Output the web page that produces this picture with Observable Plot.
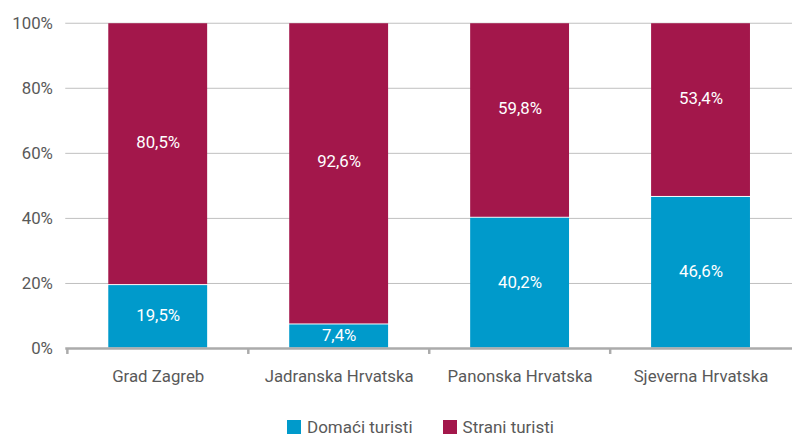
<!DOCTYPE html>
<html>
<head>
<meta charset="utf-8">
<script src="https://cdn.jsdelivr.net/npm/d3@7"></script>
<script src="https://cdn.jsdelivr.net/npm/@observablehq/plot@0.6"></script>
<style>
  html, body { margin: 0; padding: 0; background: #fff; overflow: hidden; }
  body { width: 792px; height: 439px; font-family: Roboto, "DejaVu Sans", sans-serif; }
  #chart { width: 792px; overflow: hidden; }
  .legend { display: flex; justify-content: flex-start; gap: 30px; margin-left: 287px; margin-top: 25px; font-size: 17px; line-height: 18px; color: #595959; }
  .legend .item { display: flex; align-items: center; gap: 6px; }
  .legend .sw { width: 14px; height: 14px; display: inline-block; }
</style>
</head>
<body>
<div id="chart"></div>
<script>
const regions = ["Grad Zagreb", "Jadranska Hrvatska", "Panonska Hrvatska", "Sjeverna Hrvatska"];
const series = ["Domaći turisti", "Strani turisti"];
const domaci = [19.5, 7.4, 40.2, 46.6];
const strani = [80.5, 92.6, 59.8, 53.4];
const colors = ["#009acb", "#a3174b"];
const yTicks = [0, 20, 40, 60, 80, 100];

const data = [];
regions.forEach((r, i) => {
  data.push({region: r, type: series[0], value: domaci[i]});
  data.push({region: r, type: series[1], value: strani[i]});
});

const W = 801, ML = 66, MR = 0;
const step = (W - ML - MR) / regions.length;
const fmt = v => v.toFixed(1).replace(".", ",") + "%";

const labelFor = s => Plot.text(data, Plot.stackY({
  x: "region", y: "value", z: "type", order: series,
  text: d => d.type === s ? fmt(d.value) : null,
  fill: "white", fontSize: 17,
  dy: s === series[1] ? -12 : -1
}));

const chart = Plot.plot({
  width: W,
  height: 397,
  marginLeft: ML,
  marginRight: MR,
  marginTop: 23,
  marginBottom: 45,
  style: {fontFamily: "Roboto, sans-serif", fontSize: "17px", color: "#595959", background: "#fff"},
  x: {domain: regions, paddingInner: 0.45, paddingOuter: 0.225, label: null},
  y: {domain: [0, 100], label: null},
  color: {domain: series, range: colors},
  marks: [
    Plot.gridY(yTicks.slice(1), {stroke: "#bfbfbf", strokeOpacity: 1, strokeWidth: 1}),
    Plot.axisY(yTicks, {tickSize: 0, tickPadding: 13, tickFormat: d => d + "%", fill: "#595959", fontSize: 17}),
    Plot.barY(data, {x: "region", y: "value", fill: "type", order: series, inset: 0.5}),
    labelFor(series[0]),
    labelFor(series[1]),
    Plot.ruleY([0], {stroke: "#ababab", strokeWidth: 2.5}),
    Plot.ruleX(regions, {x: d => d, y1: 0, y2: 0, dx: -step / 2, stroke: "#ababab", strokeWidth: 2.5, insetBottom: -6}),
    Plot.axisX({tickSize: 0, tickPadding: 22, fill: "#595959", fontSize: 17})
  ]
});
document.getElementById("chart").appendChild(chart);

const legend = document.createElement("div");
legend.className = "legend";
series.forEach((s, i) => {
  const it = document.createElement("span");
  it.className = "item";
  const sw = document.createElement("span");
  sw.className = "sw";
  sw.style.background = colors[i];
  it.appendChild(sw);
  it.appendChild(document.createTextNode(s));
  legend.appendChild(it);
});
document.body.appendChild(legend);
</script>
</body>
</html>
